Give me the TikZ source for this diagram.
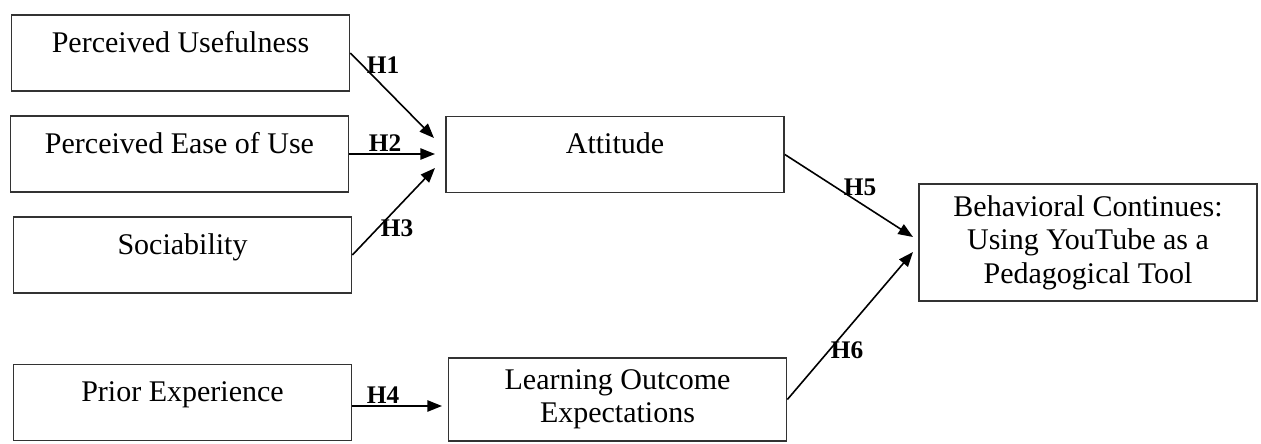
\documentclass[tikz,border=0pt]{standalone}
\usepackage{fontspec}
\setmainfont{Liberation Serif}
\usetikzlibrary{arrows.meta}

\tikzset{every picture/.style={line width=0.75pt}}
\tikzset{
  varbox/.style={draw={rgb, 255:red, 51; green, 51; blue, 51}, line width=1.3pt, minimum width=253.5pt, minimum height=57pt, inner sep=2pt, font=\fontsize{22.5}{25}\selectfont},
  onetext/.style={text height=0.7em, text depth=0.8em},
  hyp/.style={line width=1.2pt, -{Triangle[length=11pt,width=8.5pt]}},
  hlabel/.style={font=\fontsize{19}{21}\selectfont\bfseries, inner sep=0pt}
}

\begin{document}
\begin{tikzpicture}[x=0.75pt,y=0.75pt,yscale=-1,xscale=1]
	%set diagram to the size of the reference
	\useasboundingbox (0,0) rectangle (1261,443);

	%variables
	\draw (180.5,53) node [varbox,onetext] (pu) {Perceived Usefulness};
	\draw (179.5,154) node [varbox,onetext] (peu) {Perceived Ease of Use};
	\draw (182.5,255) node [varbox,onetext] (soc) {Sociability};
	\draw (182.5,402.5) node [varbox,onetext] (pe) {Prior Experience};
	\draw (615,154.5) node [varbox,onetext] (att) {Attitude};
	\draw (617.5,399.5) node [varbox,minimum height=62.25pt,align=center] (loe) {Learning Outcome\\Expectations};
	\draw (1088,242.5) node [varbox,minimum height=87.75pt,align=center] (bc) {Behavioral Continues:\\Using YouTube as a\\Pedagogical Tool};

	%arrow ends
	\coordinate (h1tip) at (434,138);
	\coordinate (h2tip) at (435,154);
	\coordinate (h3tip) at (435,168);
	\coordinate (h4start) at (352,406);
	\coordinate (h4tip) at (442,406);
	\coordinate (h5tip) at (913,237);
	\coordinate (h6tip) at (913,252);

	%hypotheses
	\draw [hyp] (pu.east) -- (h1tip);
	\draw [hyp] (peu.east) -- (h2tip);
	\draw [hyp] (soc.east) -- (h3tip);
	\draw [hyp] (h4start) -- (h4tip);
	\draw [hyp] (att.east) -- (h5tip);
	\draw [hyp] (loe.east) -- (h6tip);

	\draw (383,65) node [hlabel] (h1) {H1};
	\draw (385,143) node [hlabel] (h2) {H2};
	\draw (397,228) node [hlabel] (h3) {H3};
	\draw (383,395) node [hlabel] (h4) {H4};
	\draw (860,187) node [hlabel] (h5) {H5};
	\draw (847,350) node [hlabel] (h6) {H6};

\end{tikzpicture}
\end{document}
